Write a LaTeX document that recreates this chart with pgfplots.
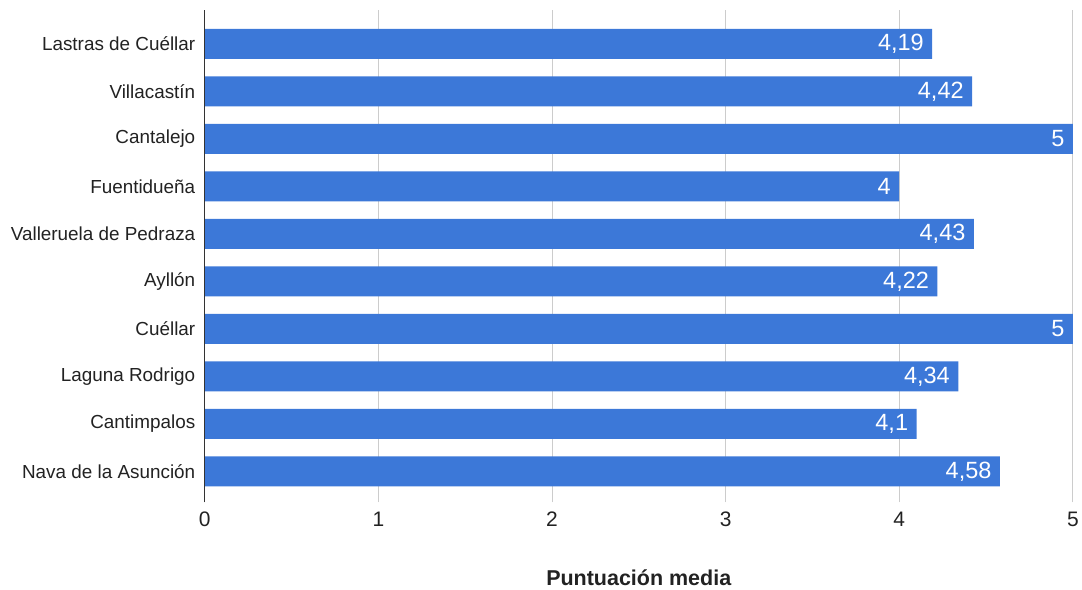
\documentclass[border=0pt]{standalone}
\usepackage{fontspec}
\setmainfont{Liberation Sans}
\usepackage{pgfplots}
\pgfplotsset{compat=1.18}
\definecolor{barblue}{HTML}{3C78D8}
\definecolor{txt}{HTML}{222222}
\definecolor{gridc}{HTML}{CCCCCC}
\begin{document}
\begin{tikzpicture}
\begin{axis}[
  name=ax,
  scale only axis,
  width=869pt, height=493pt,
  xbar, bar width=30pt,
  xmin=0, xmax=5,
  ymin=-0.652, ymax=9.715,
  xtick={0,1,2,3,4,5},
  ytick={0,1,2,3,4,5,6,7,8,9},
  yticklabels={Nava de la Asunción,Cantimpalos,Laguna Rodrigo,Cuéllar,Ayllón,Valleruela de Pedraza,Fuentidueña,Cantalejo,Villacastín,Lastras de Cuéllar},
  major tick length=0pt,
  xmajorgrids, major grid style={gridc, line width=1pt},
  axis line style={draw=none},
  /pgf/number format/assume math mode=true,
  yticklabel style={font=\fontsize{18.9}{22}\selectfont, text=txt, xshift=-6pt},
  xticklabel style={font=\fontsize{21}{24}\selectfont, text=txt, yshift=-6pt},
  xlabel={\textbf{Puntuación media}},
  xlabel style={font=\fontsize{21.5}{24}\selectfont, text=txt, at={(axis description cs:0.5,-0.168)}, anchor=base},
  nodes near coords={\pgfmathprintnumber[use comma]{\pgfplotspointmeta}},
  nodes near coords align={anchor=east, xshift=-5pt},
  every node near coord/.append style={font=\fontsize{23.5}{26}\selectfont, text=white},
  clip=false,
]
\addplot[fill=barblue, draw=none] coordinates {
 (4.58,0) (4.1,1) (4.34,2) (5,3) (4.22,4) (4.43,5) (4,6) (5,7) (4.42,8) (4.19,9)
};
\draw[color=black!80, line width=1.2pt] (axis cs:0,-0.652) -- (axis cs:0,9.715);
\end{axis}
\path ([xshift=-205pt,yshift=-87pt]ax.south west) rectangle ([xshift=8pt,yshift=10pt]ax.north east);
\end{tikzpicture}
\end{document}
